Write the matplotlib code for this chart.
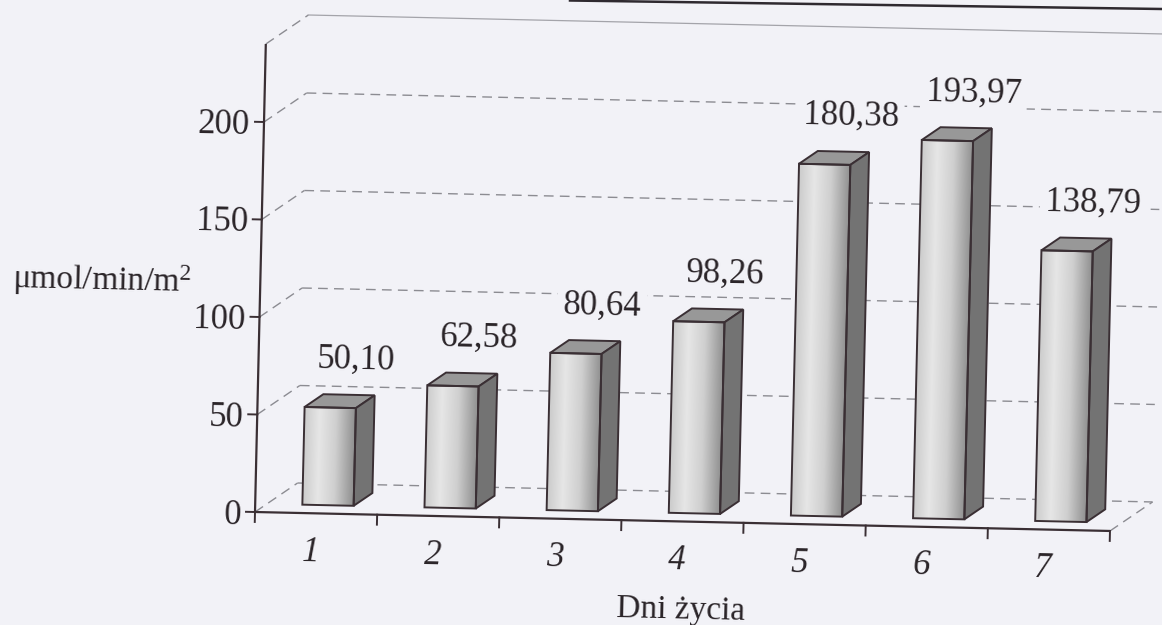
import numpy as np
import matplotlib
matplotlib.use("Agg")
import matplotlib.pyplot as plt
from matplotlib.patches import Polygon
from matplotlib.lines import Line2D
from matplotlib.transforms import Affine2D
from matplotlib.colors import LinearSegmentedColormap

# ---- data -------------------------------------------------------------
days = ["1", "2", "3", "4", "5", "6", "7"]
activity = [50.10, 62.58, 80.64, 98.26, 180.38, 193.97, 138.79]
value_labels = ["50,10", "62,58", "80,64", "98,26", "180,38", "193,97", "138,79"]
y_ticks = [0, 50, 100, 150, 200]
y_top = 240
x_title = "Dni życia"
y_title = "μmol/min/m$^2$"

# ---- styling ----------------------------------------------------------
W, H, DPI = 1162, 625, 100
paper = "#f2f2f7"
ink = "#3a2f34"
text_c = "#2a2428"
grid_c = "#8c8c92"
top_c = "#989898"
side_c = "#737373"
FS = 25        # numbers
FS_T = 24      # axis titles

plt.rcParams["font.family"] = ["Liberation Serif", "DejaVu Serif"]
plt.rcParams["mathtext.fontset"] = "custom"
plt.rcParams["mathtext.rm"] = "Liberation Serif"
plt.rcParams["mathtext.it"] = "Liberation Serif:italic"

fig = plt.figure(figsize=(W / DPI, H / DPI), dpi=DPI, facecolor=paper)
ax = fig.add_axes([0, 0, 1, 1])
ax.set_axis_off()
ax.set_autoscale_on(False)

# origin of the plot (pixels) and pixels per category / per unit
ox, oy = 255.0, 113.0
sx, sy = 122.14, 1.95
ax.set_xlim(-ox / sx, (W - ox) / sx)
ax.set_ylim(-oy / sy, (H - oy) / sy)

# the printed page sits slightly askew
shear = Affine2D(np.array([[1.0, 0.0231, 0.0],
                           [-0.02219, 1.0, 0.0],
                           [0.0, 0.0, 1.0]]))
skew = Affine2D().translate(-ox, -oy) + shear + Affine2D().translate(ox, oy)
T = ax.transData + skew
tilt = -np.degrees(np.arctan(0.02219))

n = len(days)
dxw, dvw = 0.343, 15.35      # depth of the back wall (category units, value units)
fd, bd = 0.28, 0.44          # front offset and depth of each bar, as wall fractions
slot_left, bar_w = 0.29, 0.42
dash = (0, (7, 4.5))

def line(xs, ys, **kw):
    ax.plot(xs, ys, transform=T, clip_on=False, **kw)

def label(x, y, s, size=FS, box=False, **kw):
    extra = {}
    if box:
        extra["bbox"] = dict(facecolor=paper, edgecolor="none", pad=4)
    ax.text(x, y, s, fontsize=size, color=text_c, rotation=tilt,
            rotation_mode="anchor", transform=T, zorder=6, **extra, **kw)

# ---- back wall: gridlines ---------------------------------------------
for v in y_ticks:
    line([0, dxw], [v, v + dvw], color=grid_c, lw=1.0, ls=dash)
    line([dxw, n + dxw], [v + dvw, v + dvw], color=grid_c, lw=1.0, ls=dash)
line([0, dxw], [y_top, y_top + dvw], color=grid_c, lw=1.0, ls=dash)
line([dxw, n + dxw + 0.1], [y_top + dvw, y_top + dvw], color="#a4a4aa", lw=0.9)
line([n, n + dxw], [0, dvw], color=grid_c, lw=1.0, ls=dash)

# ---- bars ----------------------------------------------------------------
face_cmap = LinearSegmentedColormap.from_list(
    "face", [(0.0, "#cbcbcb"), (0.3, "#e6e6e6"), (0.62, "#cfcfcf"), (1.0, "#8e8e8e")])
grad = np.linspace(0, 1, 256).reshape(1, -1)
ddx, ddv = bd * dxw, bd * dvw

for i, val in enumerate(activity):
    x0 = i + slot_left + fd * dxw
    v0 = fd * dvw
    x1 = x0 + bar_w
    v1 = v0 + val
    im = ax.imshow(grad, extent=(x0, x1, v0, v1), cmap=face_cmap, aspect="auto",
                   interpolation="bilinear", origin="lower", zorder=3)
    im.set_transform(T)
    im.set_clip_on(False)
    front = Polygon([(x0, v0), (x1, v0), (x1, v1), (x0, v1)], closed=True,
                    facecolor="none", edgecolor=ink, lw=1.4, joinstyle="miter",
                    transform=T, zorder=4, clip_on=False)
    top = Polygon([(x0, v1), (x1, v1), (x1 + ddx, v1 + ddv), (x0 + ddx, v1 + ddv)],
                  closed=True, facecolor=top_c, edgecolor=ink, lw=1.4,
                  joinstyle="miter", transform=T, zorder=4, clip_on=False)
    side = Polygon([(x1, v0), (x1 + ddx, v0 + ddv), (x1 + ddx, v1 + ddv), (x1, v1)],
                   closed=True, facecolor=side_c, edgecolor=ink, lw=1.4,
                   joinstyle="miter", transform=T, zorder=4, clip_on=False)
    for p in (top, side, front):
        ax.add_patch(p)
    label(x0 + bar_w / 2 + ddx / 2 + 0.13, v1 + ddv / 2 + 17.0, value_labels[i],
          box=True, ha="center", va="baseline")

# ---- axes ----------------------------------------------------------------
line([0, 0], [0, y_top], color=ink, lw=1.6, solid_capstyle="butt", zorder=5)
line([0, n], [0, 0], color=ink, lw=1.6, solid_capstyle="butt", zorder=5)
tick_x = 9 / sx
for v in y_ticks:
    line([-tick_x, 0], [v, v], color=ink, lw=1.4, zorder=5)
    label(-tick_x - 0.04, v - 6.3, str(v), ha="right", va="baseline")
for k in range(n + 1):
    line([k, k], [0, -5.1], color=ink, lw=1.4, zorder=5)
for k, d in enumerate(days):
    label(k + 0.46, -24.5, d, style="italic", ha="center", va="baseline")

label(3.5, -49.5, x_title, size=FS_T, ha="center", va="baseline")
label(-1.30, 112, y_title, size=FS_T, ha="center", va="baseline")

# rule along the top edge of the page
fig.add_artist(Line2D([570 / W, 1.0], [1.0 - 0.5 / H, 1.0 - 9.0 / H],
                      transform=fig.transFigure, color="#2f2a30", lw=1.8))

ax.set_xlim(-ox / sx, (W - ox) / sx)
ax.set_ylim(-oy / sy, (H - oy) / sy)
fig.savefig("out.png", dpi=DPI, facecolor=paper)
